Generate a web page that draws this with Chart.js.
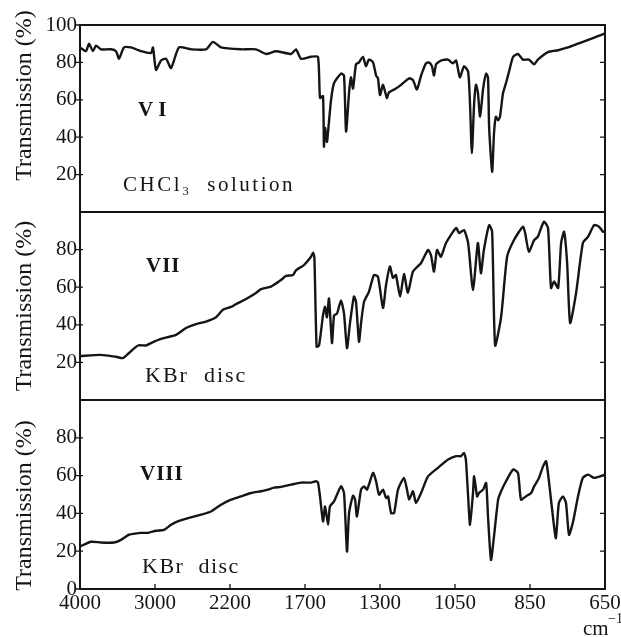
<!DOCTYPE html>
<html>
<head>
<meta charset="utf-8">
<script src="https://cdn.jsdelivr.net/npm/chart.js@4.4.1/dist/chart.umd.min.js"></script>
<style>
  html, body { margin: 0; padding: 0; background: #fff; }
  #wrap { position: relative; width: 621px; height: 637px; overflow: hidden; }
  canvas { position: absolute; left: 0; }
</style>
</head>
<body>
<div id="wrap">
  <canvas id="c1" width="621" height="214" style="top:0"></canvas>
  <canvas id="c2" width="621" height="202" style="top:200px"></canvas>
  <canvas id="c3" width="621" height="249" style="top:388px"></canvas>
</div>
<script>
// IR spectra of VI, VII, VIII - wavenumber (cm-1) vs transmission (%)
const waveTicks = [4000, 3000, 2200, 1700, 1300, 1050, 850, 650];
const yTicksVI = [20, 40, 60, 80, 100];
const yTicksVII = [20, 40, 60, 80];
const yTicksVIII = [0, 20, 40, 60, 80];

const wnVI = [4000,3920,3880,3827,3787,3720,3587,3520,3480,3413,3320,3187,3053,3027,2989,2936,2883,2829,2744,2616,2456,2381,2296,2127,2027,1960,1893,1793,1760,1727,1668,1631,1620,1604,1599,1593,1583,1577,1561,1545,1508,1492,1481,1465,1455,1444,1428,1412,1391,1375,1359,1337,1321,1311,1300,1290,1277,1270,1247,1230,1203,1190,1177,1163,1147,1137,1127,1120,1113,1097,1073,1057,1047,1037,1026,1015,1010,1005,999,994,989,983,975,967,962,959,951,946,941,935,930,922,914,906,895,882,869,853,839,829,802,775,749,722,695,669,650];
const tVI = [88,86,90,86,89,87,87,86,82,88,88,86,85,88,76,81,82,77,88,87,87,91,88,87,87,84.5,86,84.5,87,82,83,83,61,62,35,45,37.5,43,60,69,74,73,43,64,72,66,79,80,83,78,81.5,80,73,71.5,62.5,68,61,64,66,68,71.5,70.5,65.5,73,79.5,80,78,73,79,81,81.5,79.5,81,72,78,75,58,31.5,58,68,64,51,66,74,72,45.5,21.5,42,51,49,51,63.5,69,75,83,84.5,81.5,81.5,79,81.5,85.5,86.5,88,90,92,94,95.5];

const wnVII = [4000,3720,3520,3427,3347,3227,3120,3053,2936,2776,2669,2563,2456,2349,2275,2193,2160,2093,2027,1993,1927,1860,1827,1780,1760,1707,1668,1657,1650,1638,1625,1604,1593,1583,1572,1556,1545,1529,1508,1492,1476,1460,1439,1428,1412,1401,1385,1359,1332,1311,1290,1280,1267,1257,1247,1233,1220,1207,1190,1163,1140,1130,1120,1110,1097,1080,1047,1039,1026,1015,1002,989,981,973,959,951,943,927,911,893,869,863,853,839,829,813,802,794,786,775,767,759,751,743,727,709,695,679,666,655,650];
const tVII = [23.4,24,23,22.3,25,29,29,30.3,32.5,34.6,38.3,40.4,41.7,44,48,49.5,51,53.7,56.9,59,60.3,63.8,66,66.5,69,71.8,76.2,78.4,76,28.4,29,45,49.6,44,54,30.3,45,46,53,46,27.6,41,55,52.3,31,41,52.3,57.6,66.5,65.6,49,61,71,65,66.5,55,67,57,68.3,72.9,79.8,77,68.3,79.8,76.2,83.5,91.5,88.8,90.4,83.5,58.5,83.5,67.4,79.8,93,89.5,29,44.3,76.2,85,92.2,88.8,78.9,85,86.9,94.8,91.5,59.6,63,59.6,83.5,89.5,72.9,41,57,83.5,86.9,93,92.2,89.5,89.4];

const wnVIII = [4000,3853,3720,3547,3453,3347,3187,3093,2989,2904,2829,2744,2616,2509,2403,2296,2193,2127,2060,1993,1947,1907,1860,1793,1727,1668,1641,1631,1620,1604,1593,1577,1567,1545,1508,1492,1476,1465,1444,1433,1423,1401,1385,1369,1337,1321,1305,1290,1280,1273,1263,1253,1240,1220,1210,1203,1190,1180,1163,1140,1107,1073,1047,1034,1026,1021,1015,1010,1002,999,991,986,975,967,962,954,946,935,927,914,895,882,874,861,847,839,826,815,807,799,789,781,773,762,754,746,735,722,709,695,679,650];
const tVIII = [22.5,25,24.6,24.6,26,28.7,29.7,29.7,30.8,31.3,34,36,37.9,39.3,41,44.6,47.3,49,50.8,51.7,52.6,53.6,54,55.2,56.3,56.3,57,56.5,49,35.8,43.7,34,43.7,46.4,54.3,50.8,19.8,40.2,49.4,47.3,38.4,52.6,54.3,52.6,61.4,57,49.9,52.6,48.2,49,40.2,40.2,52.6,58.8,52.6,47.3,51.7,45.5,50.8,59.6,64.1,68.5,70.3,70.3,72,68.5,49,34,50.8,59.6,49,50.8,52.6,56.1,38.4,15.4,27.8,47.3,51.7,57,63.2,61.4,47.3,49,50.8,54.3,58.8,65,67.6,56.1,38.4,26.9,45.5,49,45.5,28.7,35.7,49,58.8,60.5,58.8,60.5];

const serif = "'Liberation Serif', 'DejaVu Serif', serif";
const ink = '#151515';

// old spectrometer chart paper: each labelled interval gets the same width
class WaveScale extends Chart.LinearScale {
  buildTicks() {
    return waveTicks.map(v => ({ value: v }));
  }
  getPixelForValue(value) {
    let i = 0;
    while (i < waveTicks.length - 2 && value < waveTicks[i + 1]) i++;
    const pos = i + (waveTicks[i] - value) / (waveTicks[i] - waveTicks[i + 1]);
    return this.getPixelForDecimal(pos / (waveTicks.length - 1));
  }
  getValueForPixel(pixel) {
    const pos = this.getDecimalForPixel(pixel) * (waveTicks.length - 1);
    const i = Math.max(0, Math.min(waveTicks.length - 2, Math.floor(pos)));
    return waveTicks[i] - (pos - i) * (waveTicks[i] - waveTicks[i + 1]);
  }
}
WaveScale.id = 'wave';
WaveScale.defaults = {};
Chart.register(WaveScale);

// box, tick marks, axis title and the panel notes
const framePlugin = {
  id: 'frame',
  afterDatasetsDraw(chart, args, opts) {
    const { ctx, chartArea: a, scales } = chart;
    ctx.save();
    ctx.strokeStyle = ink;
    ctx.lineWidth = 2;
    ctx.strokeRect(a.left, a.top, a.right - a.left, a.bottom - a.top);
    ctx.lineWidth = 1.3;
    ctx.beginPath();
    scales.y.ticks.forEach(t => {
      const y = scales.y.getPixelForValue(t.value);
      ctx.moveTo(a.left - 4, y); ctx.lineTo(a.left + 3, y);
      ctx.moveTo(a.right - 5, y); ctx.lineTo(a.right, y);
    });
    if (opts.xMarks) {
      scales.x.ticks.forEach(t => {
        const x = scales.x.getPixelForValue(t.value);
        ctx.moveTo(x, a.bottom); ctx.lineTo(x, a.bottom - 5);
      });
    }
    ctx.stroke();

    ctx.fillStyle = ink;

    // y title, centred a little off the box middle as in the print
    ctx.save();
    ctx.translate(25, (a.top + a.bottom) / 2 + opts.titleShift);
    ctx.rotate(-Math.PI / 2);
    ctx.font = '24px ' + serif;
    ctx.textAlign = 'center';
    ctx.textBaseline = 'middle';
    ctx.fillText('Transmission (%)', 0, 0);
    ctx.restore();

    ctx.textBaseline = 'alphabetic';
    (opts.notes || []).forEach(n => {
      ctx.font = (n.weight || '') + ' ' + n.size + 'px ' + serif;
      ctx.letterSpacing = (n.spacing || 0) + 'px';
      ctx.fillText(n.text, a.left + n.dx, a.top + n.dy);
    });
    if (opts.unit) {
      ctx.letterSpacing = '0px';
      ctx.font = '21px ' + serif;
      ctx.fillText('cm', a.right - 22, a.bottom + 46);
      ctx.font = '14px ' + serif;
      ctx.fillText('\u22121', a.right + 3, a.bottom + 34);
    }
    ctx.restore();
  }
};

function noPad(s) {
  s.paddingTop = 0; s.paddingBottom = 0; s.paddingLeft = 0; s.paddingRight = 0;
}

function yScale(tickList) {
  return {
    min: 0,
    max: 100,
    afterBuildTicks: s => { s.ticks = tickList.map(v => ({ value: v })); },
    afterFit: s => { s.width = 80; noPad(s); },
    grid: { display: false, drawTicks: false },
    border: { display: false },
    ticks: { color: ink, font: { family: serif, size: 21 }, padding: 3 },
    title: { display: false }
  };
}

function drawPanel(id, wn, tr, yTicks, showX, padding, titleShift, notes) {
  new Chart(document.getElementById(id), {
    type: 'line',
    data: {
      datasets: [{
        data: wn.map((w, i) => ({ x: w, y: tr[i] })),
        borderColor: ink,
        borderWidth: 2.4,
        pointRadius: 0,
        tension: 0.2,
        fill: false
      }]
    },
    options: {
      responsive: false,
      animation: false,
      devicePixelRatio: 1,
      layout: { padding: padding },
      plugins: {
        legend: { display: false },
        tooltip: { enabled: false },
        frame: { notes: notes, xMarks: showX, unit: showX, titleShift: titleShift }
      },
      scales: {
        x: {
          type: 'wave',
          display: showX,
          min: 650,
          max: 4000,
          afterFit: s => { s.height = showX ? 48 : 0; noPad(s); },
          grid: { display: false, drawTicks: false },
          border: { display: false },
          ticks: {
            color: ink,
            font: { family: serif, size: 21 },
            padding: 2,
            autoSkip: false,
            maxRotation: 0,
            callback: v => String(v)
          }
        },
        y: yScale(yTicks)
      }
    },
    plugins: [framePlugin]
  });
}

drawPanel('c1', wnVI, tVI, yTicksVI, false, { top: 25, right: 16, bottom: 2, left: 0 }, -23, [
  { text: 'VI', size: 21, weight: 'bold', dx: 58, dy: 91, spacing: 5 },
  { text: 'CHCl\u2083  solution', size: 21, dx: 43, dy: 166, spacing: 2.5 }
]);
drawPanel('c2', wnVII, tVII, yTicksVII, false, { top: 12, right: 16, bottom: 2, left: 0 }, 0, [
  { text: 'VII', size: 21, weight: 'bold', dx: 66, dy: 60, spacing: 1 },
  { text: 'KBr  disc', size: 22, dx: 65, dy: 170, spacing: 2 }
]);
drawPanel('c3', wnVIII, tVIII, yTicksVIII, true, { top: 12, right: 16, bottom: 0, left: 0 }, 11, [
  { text: 'VIII', size: 21, weight: 'bold', dx: 60, dy: 80, spacing: 1 },
  { text: 'KBr  disc', size: 22, dx: 62, dy: 173, spacing: 1.5 }
]);
</script>
</body>
</html>
